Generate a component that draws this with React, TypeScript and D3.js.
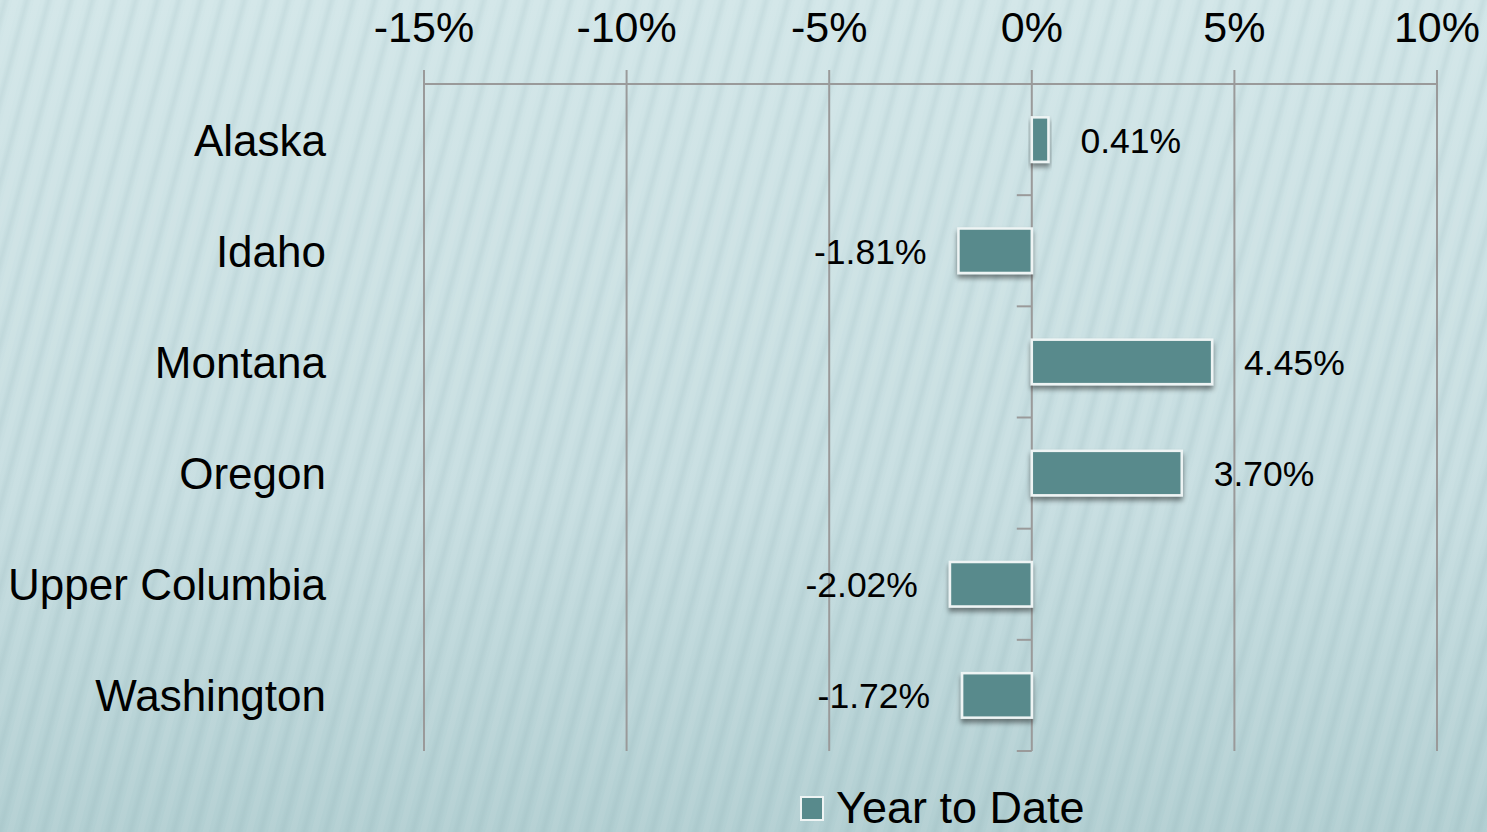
import React from "react";
import * as d3 from "d3";

const categories = ["Alaska", "Idaho", "Montana", "Oregon", "Upper Columbia", "Washington"];
const values = [0.41, -1.81, 4.45, 3.7, -2.02, -1.72];
const tickValues = [-15, -10, -5, 0, 5, 10];
const seriesName = "Year to Date";

const W = 1487;
const H = 832;
const FONT = "Liberation Sans, Arial, sans-serif";

export default function App() {
  const x = d3.scaleLinear().domain([-15, 10]).range([424, 1437]);
  const y = d3.scaleBand<string>().domain(categories).range([84, 751]).paddingInner(0.6).paddingOuter(0.3);
  const band = d3.scaleBand<string>().domain(categories).range([84, 751]);
  const barColor = "#588a8c";
  const gridColor = "#9a9a9a";
  const fmt = (v: number) => v.toFixed(2) + "%";

  return (
    <div style={{ position: "fixed", left: 0, top: 0, width: W, height: H, margin: 0 }}>
      <svg width={W} height={H} style={{ display: "block" }}>
        <defs>
          <linearGradient id="bg" x1="0" y1="0" x2="0" y2="1">
            <stop offset="0" stopColor="#d2e6e8" />
            <stop offset="0.6" stopColor="#c6dde0" />
            <stop offset="1" stopColor="#b2cfd2" />
          </linearGradient>
          <linearGradient id="stripeG" x1="0" y1="0" x2="1" y2="0">
            <stop offset="0" stopColor="#7fa3a8" stopOpacity="0" />
            <stop offset="0.5" stopColor="#7fa3a8" stopOpacity="0.13" />
            <stop offset="1" stopColor="#7fa3a8" stopOpacity="0" />
          </linearGradient>
          <pattern id="stripes" width="21" height="40" patternUnits="userSpaceOnUse" patternTransform="rotate(15)">
            <rect x="0" y="0" width="10" height="40" fill="url(#stripeG)" />
            <rect x="12" y="0" width="6" height="40" fill="#ffffff" opacity="0.05" />
          </pattern>
          <filter id="shadow" x="-20%" y="-30%" width="140%" height="180%">
            <feDropShadow dx="0" dy="4" stdDeviation="2.5" floodColor="#000" floodOpacity="0.45" />
          </filter>
        </defs>
        <rect x={0} y={0} width={W} height={H} fill="url(#bg)" />
        <rect x={0} y={0} width={W} height={H} fill="url(#stripes)" />

        <line x1={x(-15)} x2={x(10)} y1={84} y2={84} stroke={gridColor} strokeWidth={2} />
        {tickValues.map((t) => (
          <g key={t}>
            <line x1={x(t)} x2={x(t)} y1={70} y2={751} stroke={gridColor} strokeWidth={2} />
            <text x={x(t)} y={42} textAnchor="middle" fontFamily={FONT} fontSize={43} fill="#000">
              {t + "%"}
            </text>
          </g>
        ))}
        {categories.map((c) => (
          <line
            key={"t" + c}
            x1={x(0) - 15}
            x2={x(0)}
            y1={(band(c) as number) + band.bandwidth()}
            y2={(band(c) as number) + band.bandwidth()}
            stroke={gridColor}
            strokeWidth={2}
          />
        ))}
        {categories.map((c) => (
          <text
            key={"l" + c}
            x={326}
            y={(band(c) as number) + band.bandwidth() / 2 + 16}
            textAnchor="end"
            fontFamily={FONT}
            fontSize={44}
            fill="#000"
          >
            {c}
          </text>
        ))}
        {categories.map((c, i) => {
          const v = values[i];
          const x0 = x(Math.min(0, v));
          const x1 = x(Math.max(0, v));
          const by = y(c) as number;
          return (
            <rect
              key={"b" + c}
              x={x0}
              y={by}
              width={x1 - x0}
              height={y.bandwidth()}
              fill={barColor}
              stroke="#eef4f4"
              strokeWidth={2.5}
              filter="url(#shadow)"
            />
          );
        })}
        {categories.map((c, i) => {
          const v = values[i];
          const cy = (band(c) as number) + band.bandwidth() / 2 + 13;
          const pos = v >= 0;
          return (
            <text
              key={"d" + c}
              x={pos ? x(v) + 32 : x(v) - 32}
              y={cy}
              textAnchor={pos ? "start" : "end"}
              fontFamily={FONT}
              fontSize={35.5}
              fill="#000"
            >
              {fmt(v)}
            </text>
          );
        })}
        <rect x={801} y={797} width={22} height={23} fill={barColor} stroke="#eef4f4" strokeWidth={2} />
        <text x={836} y={823} fontFamily={FONT} fontSize={45} fill="#000">
          {seriesName}
        </text>
      </svg>
    </div>
  );
}
